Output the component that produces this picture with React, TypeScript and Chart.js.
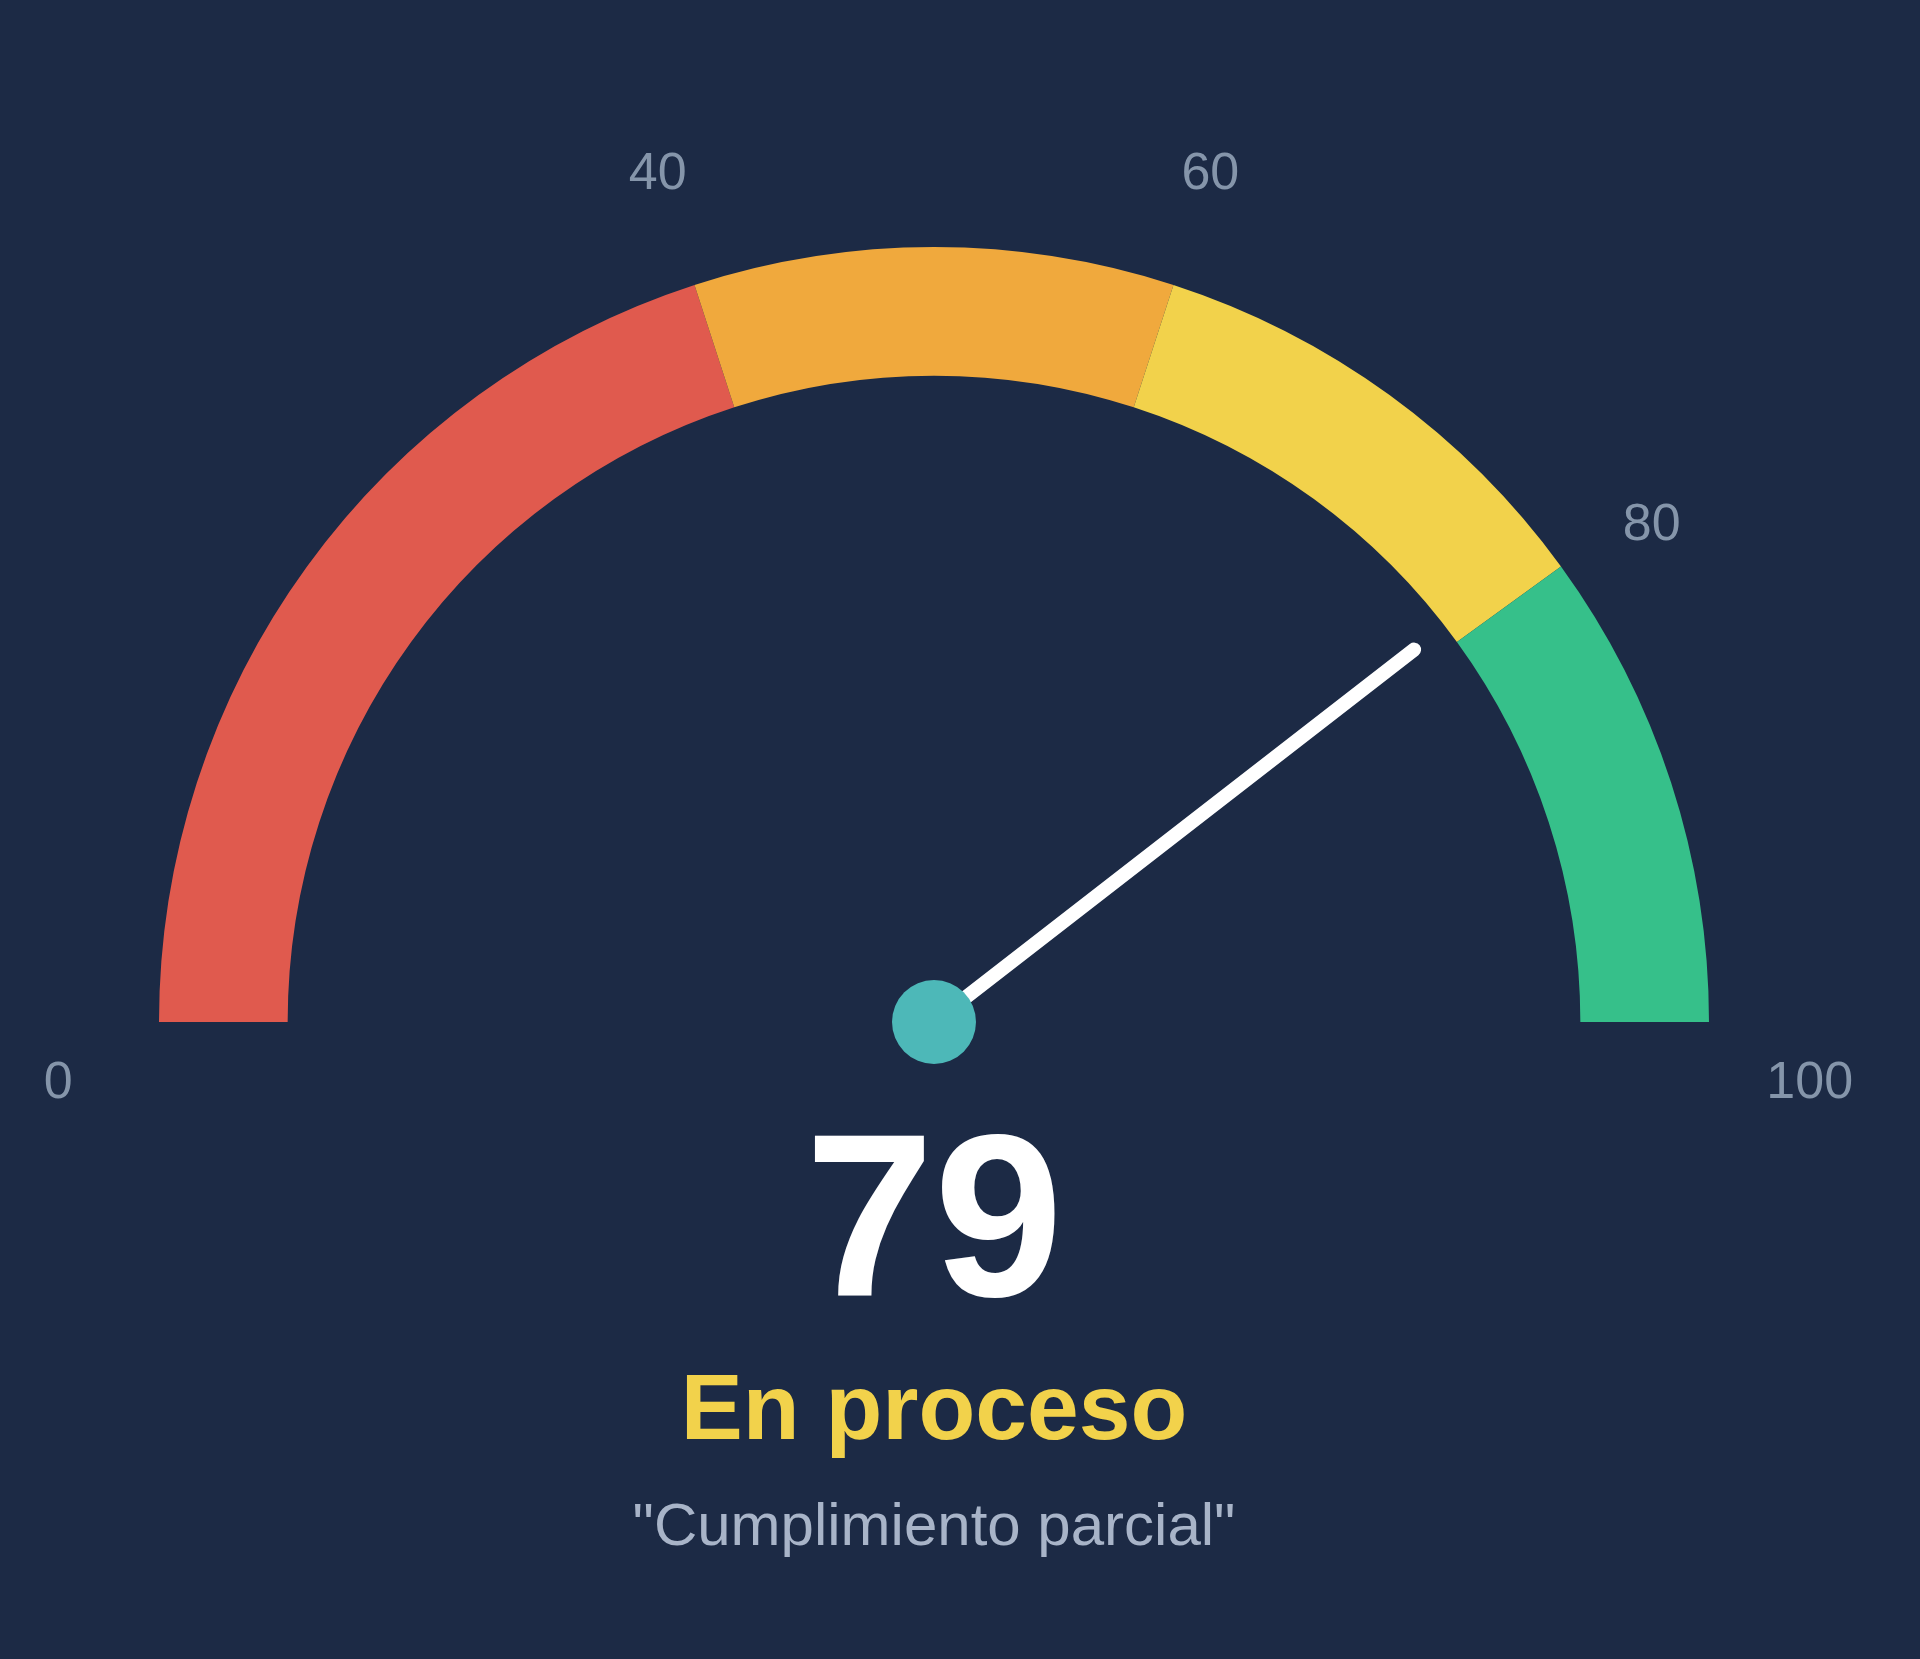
import React, { useEffect, useRef } from 'react';
import { Chart, registerables, Plugin } from 'chart.js';

Chart.register(...registerables);

// gauge bands (size of each band) and colours
const bandLabels = ['Deficiente', 'Bajo', 'En proceso', 'Logrado'];
const bandSizes = [40, 20, 20, 20];
const bandColors = ['#E05A4E', '#F0A93D', '#F2D24B', '#36C08A'];

const gaugeMax = 100;
const gaugeValue = 79;
const tickValues = [0, 40, 60, 80, 100];

const statusText = 'En proceso';
const quoteText = '"Cumplimiento parcial"';

const BG = '#1C2A45';
const FONT = '"Liberation Sans", Arial, sans-serif';

const gaugeOverlay: Plugin<'doughnut'> = {
  id: 'gaugeOverlay',
  afterDraw(chart) {
    const arcs = chart.getDatasetMeta(0).data as any[];
    if (!arcs.length) return;
    const first = arcs[0];
    const last = arcs[arcs.length - 1];
    const cx: number = first.x;
    const cy: number = first.y;
    const R: number = first.outerRadius;
    const start: number = first.startAngle;
    const end: number = last.endAngle;
    const angleOf = (v: number) => start + ((end - start) * v) / gaugeMax;
    const ctx = chart.ctx;
    ctx.save();

    // tick labels around the arc
    ctx.font = `52px ${FONT}`;
    ctx.fillStyle = '#8595AA';
    ctx.textAlign = 'center';
    ctx.textBaseline = 'middle';
    tickValues.forEach(v => {
      const a = angleOf(v);
      const up = -Math.sin(a); // 0 at the ends, 1 at the top
      const r = R * (1.13 + 0.025 * up);
      const x = cx + Math.cos(a) * r;
      const y = cy + Math.sin(a) * r + 0.08 * R * (1 - up);
      ctx.fillText(String(v), x, y);
    });

    // needle
    const na = angleOf(gaugeValue);
    const len = R * 0.784;
    ctx.strokeStyle = '#FFFFFF';
    ctx.lineWidth = 14;
    ctx.lineCap = 'round';
    ctx.beginPath();
    ctx.moveTo(cx, cy);
    ctx.lineTo(cx + Math.cos(na) * len, cy + Math.sin(na) * len);
    ctx.stroke();

    // hub
    ctx.fillStyle = '#4DB8B8';
    ctx.beginPath();
    ctx.arc(cx, cy, 42, 0, Math.PI * 2);
    ctx.fill();

    // value and status
    ctx.textBaseline = 'alphabetic';
    ctx.fillStyle = '#FFFFFF';
    ctx.font = `bold 232px ${FONT}`;
    ctx.fillText(String(gaugeValue), cx, cy + 274);

    ctx.fillStyle = '#F2D24B';
    ctx.font = `bold 93px ${FONT}`;
    ctx.fillText(statusText, cx, cy + 417);

    ctx.fillStyle = '#A8B4C8';
    ctx.font = `60px ${FONT}`;
    ctx.fillText(quoteText, cx, cy + 523);

    ctx.restore();
  }
};

const App: React.FC = () => {
  const canvasRef = useRef<HTMLCanvasElement | null>(null);
  const chartRef = useRef<Chart<'doughnut'> | null>(null);

  useEffect(() => {
    document.body.style.margin = '0';
    if (!canvasRef.current) return;
    if (chartRef.current) chartRef.current.destroy();

    chartRef.current = new Chart(canvasRef.current, {
      type: 'doughnut',
      data: {
        labels: bandLabels,
        datasets: [
          {
            data: bandSizes,
            backgroundColor: bandColors,
            borderWidth: 0,
            hoverOffset: 0
          }
        ]
      },
      options: {
        responsive: true,
        maintainAspectRatio: false,
        animation: false,
        rotation: -90,
        circumference: 180,
        cutout: '83.4%',
        layout: {
          padding: { left: 159, right: 211, top: 247, bottom: 637 }
        },
        plugins: {
          legend: { display: false },
          tooltip: { enabled: false }
        },
        events: []
      },
      plugins: [gaugeOverlay]
    });

    return () => {
      if (chartRef.current) {
        chartRef.current.destroy();
        chartRef.current = null;
      }
    };
  }, []);

  return (
    <div
      style={{
        position: 'absolute',
        left: 0,
        top: 0,
        width: 1920,
        height: 1659,
        background: BG
      }}
    >
      <canvas ref={canvasRef}></canvas>
    </div>
  );
};

export default App;
